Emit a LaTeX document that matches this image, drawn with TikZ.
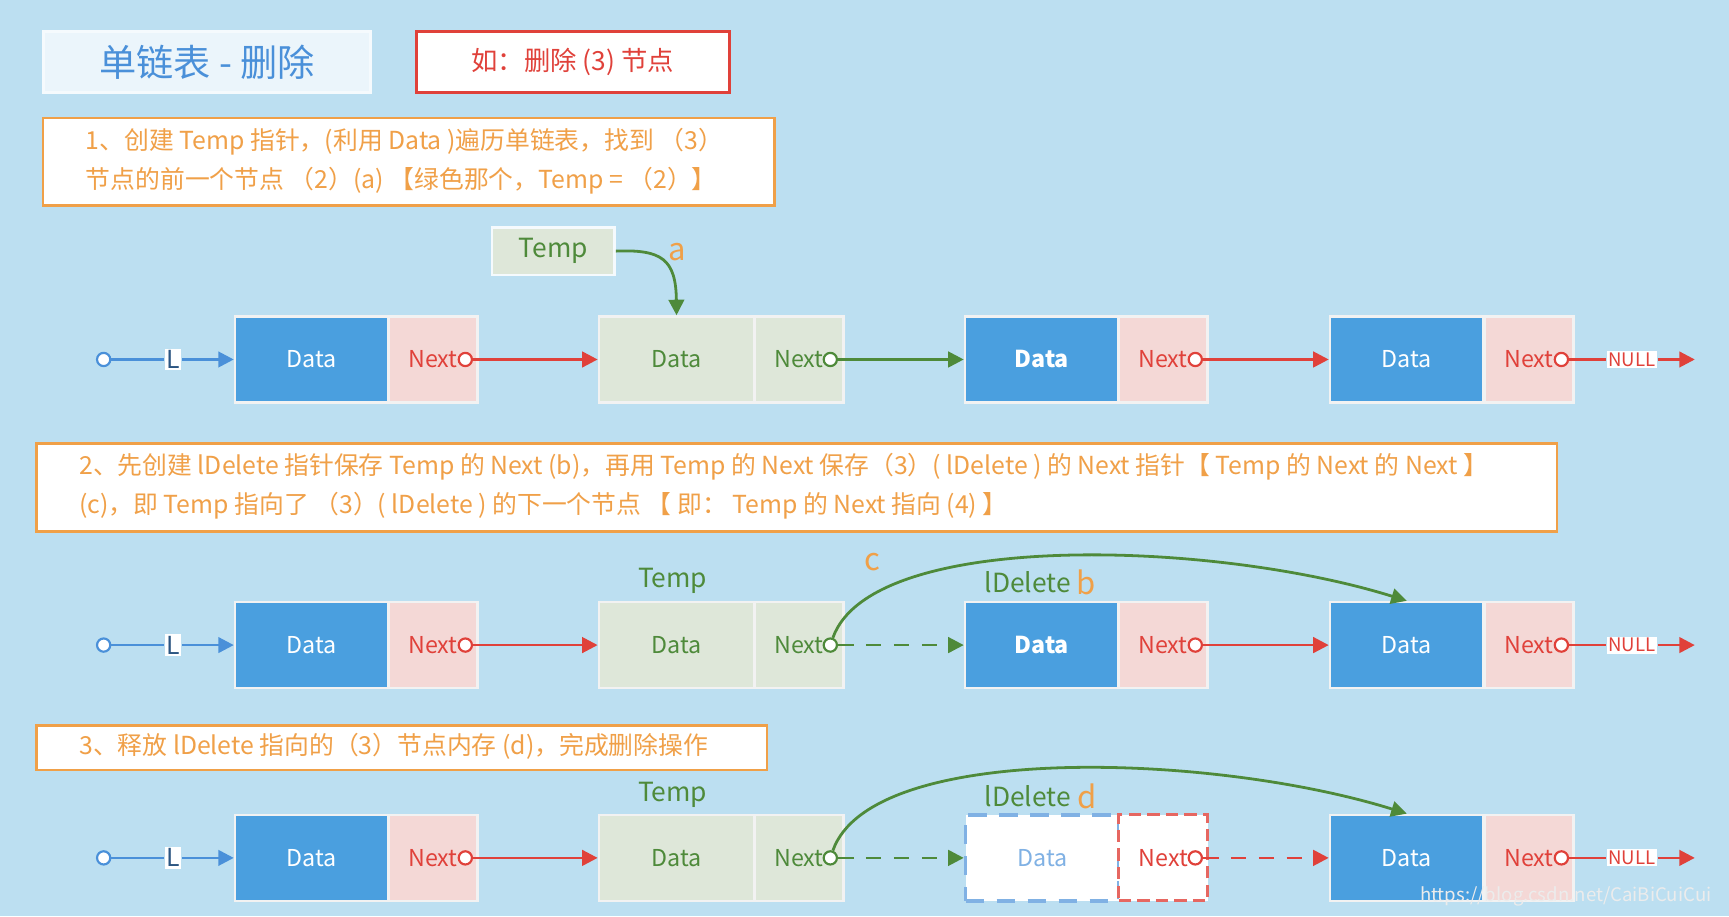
\documentclass[tikz,border=0pt]{standalone}
\usepackage{fontspec}
\setmainfont{Noto Sans CJK SC}
\usetikzlibrary{arrows.meta}
\definecolor{bg}{HTML}{BCDFF1}
\definecolor{dblue}{HTML}{4A9FDF}
\definecolor{npink}{HTML}{F4D8D6}
\definecolor{gbox}{HTML}{DEE7D9}
\definecolor{gtxt}{HTML}{4E8A3A}
\definecolor{rtxt}{HTML}{E0413A}
\definecolor{otxt}{HTML}{F0A048}
\definecolor{tblue}{HTML}{4A90D9}
\tikzset{
  x=0.0125cm, y=-0.0125cm,
  cell/.style={draw=white!90!gray, line width=0.8pt, minimum height=0.975cm, inner sep=0pt, font=\fontsize{7.5}{9}\selectfont},
  dat/.style={cell, fill=dblue, text=white, minimum width=1.74cm},
  nxt/.style={cell, fill=npink, text=rtxt, minimum width=1.01cm},
  gdat/.style={cell, fill=gbox, text=gtxt, minimum width=1.76cm},
  gnxt/.style={cell, fill=gbox, text=gtxt, minimum width=1.01cm},
  dot/.style={circle, draw, fill=white, inner sep=0pt, minimum size=0.15cm, line width=0.7pt},
  rarr/.style={draw=rtxt, line width=0.9pt, -{Triangle[length=5pt,width=5pt]}},
  garr/.style={draw=gtxt, line width=0.9pt, -{Triangle[length=5pt,width=5pt]}},
  barr/.style={draw=tblue, line width=0.9pt, -{Triangle[length=5pt,width=5pt]}},
  stepbox/.style={draw=otxt, fill=white, line width=0.8pt, inner sep=0pt, anchor=north west},
  lbl/.style={text=gtxt, font=\fontsize{8.5}{10}\selectfont, inner sep=1pt},
  letr/.style={text=otxt, font=\fontsize{10}{10}\selectfont, inner sep=1pt},
  small/.style={fill=white, inner sep=0.5pt, font=\fontsize{6}{6}\selectfont},
}
\newcommand{\myrow}[2]{%
  \node[dot, draw=tblue] (#2s) at (94,#1) {};
  \node[small, text=tblue!60!black, font=\fontsize{8}{8}\selectfont] (#2L) at (157,#1) {L};
  \node[dat, anchor=west] (#2d1) at (212,#1) {Data};
  \node[nxt, anchor=west] (#2n1) at (351,#1) {Next\hspace{0.5em}};
  \node[dot, draw=rtxt] (#2c1) at (422,#1) {};
  \node[gdat, anchor=west] (#2d2) at (542,#1) {Data};
  \node[gnxt, anchor=west] (#2n2) at (683,#1) {Next\hspace{0.5em}};
  \node[dot, draw=gtxt] (#2c2) at (753,#1) {};
  \node[dat, anchor=west] (#2d4) at (1205,#1) {Data};
  \node[nxt, anchor=west] (#2n4) at (1345,#1) {Next\hspace{0.5em}};
  \node[dot, draw=rtxt] (#2c4) at (1416,#1) {};
  \node[small, text=rtxt] (#2null) at (1480,#1) {NULL};
  \coordinate (#2end) at (1537,#1);
  \draw[tblue, line width=0.9pt] (#2s) -- (#2L);
  \draw[barr] (#2L) -- (#2d1.west);
  \draw[rarr] (#2c1) -- (#2d2.west);
  \draw[rtxt, line width=0.9pt] (#2c4) -- (#2null);
  \draw[rarr] (#2null) -- (#2end);
}
\begin{document}
\begin{tikzpicture}
\fill[bg] (0,0) rectangle (1568,831);
\useasboundingbox (0,0) rectangle (1568,831);
% header
\node[fill=white!70!bg, draw=white!85!bg, line width=1pt, minimum width=3.71cm, minimum height=0.69cm, anchor=north west, text=tblue, font=\fontsize{12}{14}\selectfont] (title) at (38,27) {单链表 - 删除};
\node[fill=white, draw=rtxt, line width=1pt, minimum width=3.55cm, minimum height=0.69cm, anchor=north west, text=rtxt, font=\fontsize{8.5}{10}\selectfont] (ex) at (376,27) {如：删除 (3) 节点};
% step 1
\node[stepbox, minimum width=8.29cm, minimum height=0.99cm] (s1) at (38,106) {};
\node[text=otxt, align=left, font=\fontsize{8}{12.5}\selectfont, anchor=west] (s1t) at (68,146) {1、创建 Temp 指针，(利用 Data )遍历单链表，找到 （3）\\节点的前一个节点 （2）(a) 【绿色那个，Temp = （2）】};
% row 1
\myrow{326}{a}
\node[dat, anchor=west, font=\fontsize{7.5}{9}\bfseries] (ad3) at (874,326) {Data};
\node[nxt, anchor=west] (an3) at (1013,326) {Next\hspace{0.5em}};
\node[dot, draw=rtxt] (ac3) at (1084,326) {};
\draw[garr] (ac2) -- (ad3.west);
\draw[rarr] (ac3) -- (ad4.west);
\node[fill=gbox, draw=white!85!bg, line width=0.8pt, minimum width=1.39cm, minimum height=0.54cm, anchor=north west, text=gtxt, font=\fontsize{8.5}{10}\selectfont] (temp) at (445,205) {Temp};
\draw[garr] (temp.east) .. controls (600,226) and (613,235) .. (ad2.north);
\node[letr] (la) at (614,229) {a};
% step 2
\node[stepbox, minimum width=17.23cm, minimum height=1cm] (s2) at (32,401) {};
\node[text=otxt, align=left, font=\fontsize{8}{12.5}\selectfont, anchor=west] (s2t) at (62,441) {2、先创建 lDelete 指针保存 Temp 的 Next (b)，再用 Temp 的 Next 保存（3）( lDelete ) 的 Next 指针【 Temp 的 Next 的 Next 】\\(c)，即 Temp 指向了 （3）( lDelete ) 的下一个节点 【 即： Temp 的 Next 指向 (4) 】};
% row 2
\myrow{585}{b}
\node[dat, anchor=west, font=\fontsize{7.5}{9}\bfseries] (bd3) at (874,585) {Data};
\node[nxt, anchor=west] (bn3) at (1013,585) {Next\hspace{0.5em}};
\node[dot, draw=rtxt] (bc3) at (1084,585) {};
\draw[garr, dash pattern=on 5pt off 4pt] (bc2) -- (bd3.west);
\draw[rarr] (bc3) -- (bd4.west);
\draw[garr] (bc2) .. controls (790,480) and (1100,490) .. (bd4.north);
\node[lbl] (bt) at (610,527) {Temp};
\node[lbl] (bdl) at (932,528) {lDelete};
\node[letr] (lb) at (985,528) {b};
\node[letr] (lc) at (791,510) {c};
% step 3
\node[stepbox, minimum width=8.28cm, minimum height=0.5cm] (s3) at (32,657) {};
\node[text=otxt, font=\fontsize{8}{10}\selectfont, anchor=west] (s3t) at (62,677) {3、释放 lDelete 指向的（3）节点内存 (d)，完成删除操作};
% row 3
\myrow{778}{c}
\node[cell, fill=white, draw=tblue!70, dash pattern=on 6pt off 4pt, line width=1.2pt, text=tblue!70, minimum width=1.74cm, anchor=west] (cd3) at (874,778) {Data};
\node[cell, fill=white, draw=rtxt!80, dash pattern=on 4pt off 2pt, line width=1pt, text=rtxt, minimum width=1.01cm, anchor=west] (cn3) at (1013,778) {Next\hspace{0.5em}};
\node[dot, draw=rtxt] (cc3) at (1084,778) {};
\draw[garr, dash pattern=on 5pt off 4pt] (cc2) -- (cd3.west);
\draw[rarr, dash pattern=on 5pt off 4pt] (cc3) -- (cd4.west);
\draw[garr] (cc2) .. controls (790,672) and (1100,683) .. (cd4.north);
\node[lbl] (ct) at (610,721) {Temp};
\node[lbl] (cdl) at (932,722) {lDelete};
\node[letr] (ld) at (986,722) {d};
\node[text=white!85!gray, font=\fontsize{6}{6}\selectfont, anchor=east] (wm) at (1562,813) {https://blog.csdn.net/CaiBiCuiCui};
\end{tikzpicture}
\end{document}
